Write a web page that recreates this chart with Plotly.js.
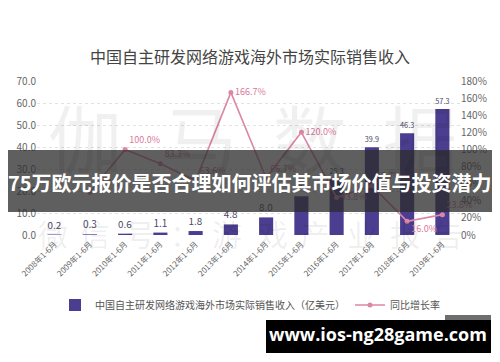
<!DOCTYPE html>
<html>
<head>
<meta charset="utf-8">
<script src="https://cdn.plot.ly/plotly-3.0.1.min.js"></script>
<style>html,body{margin:0;padding:0;background:#fff;}#chart{width:500px;height:362px;}</style>
</head>
<body>
<div id="chart"></div>
<script>
// ---- data ----
var categories = ["2008年1-6月","2009年1-6月","2010年1-6月","2011年1-6月","2012年1-6月","2013年1-6月","2014年1-6月","2015年1-6月","2016年1-6月","2017年1-6月","2018年1-6月","2019年1-6月"];
var revenue = [0.2, 0.3, 0.6, 1.1, 1.8, 4.8, 8.0, 17.6, 25.3, 39.9, 46.3, 57.3];
var growthPct = [null, 50.0, 100.0, 83.3, 63.6, 166.7, 66.7, 120.0, 43.8, 57.7, 16.0, 23.8];
var growthLabelPos = ["top right","top right","top right","top right","top right","middle right","top right","middle right","middle right","top right","bottom right","top right"];
var leftTicks = [0,10,20,30,40,50,60,70];
var rightTicks = [0,0.2,0.4,0.6,0.8,1.0,1.2,1.4,1.6,1.8];

var W = 500, H = 362;
var ML = 37, MR = 40, MT = 81, MB = 127;
var PW = W - ML - MR, PH = H - MT - MB;
function px(x){ return (x - ML) / PW; }
function py(y){ return (H - MB - y) / PH; }

var CJK = '"Noto Sans CJK SC", "Noto Sans", sans-serif';

var barTrace = {
  type: 'bar', x: categories, y: revenue, name: '中国自主研发网络游戏海外市场实际销售收入（亿美元）',
  marker: {color: '#4b3d8f'}, width: 0.4,
  text: revenue.map(function(v){return v.toFixed(1);}), textposition: 'outside',
  textfont: {color: '#4d4866', size: 10, family: CJK}, cliponaxis: false,
  hoverinfo: 'skip'
};
var lineTrace = {
  type: 'scatter', mode: 'lines+markers+text', x: categories,
  y: growthPct.map(function(v){return v === null ? null : v/100;}), yaxis: 'y2',
  name: '同比增长率',
  line: {color: '#dd86a6', width: 1.6}, marker: {color: '#dd86a6', size: 5},
  text: growthPct.map(function(v){return v === null ? '' : v.toFixed(1) + '%';}),
  textposition: growthLabelPos,
  textfont: {color: '#d9799c', size: 9, family: CJK}, cliponaxis: false,
  hoverinfo: 'skip'
};

var annotations = [];
// faint watermarks
var wm1 = ['伽','马','数','据'], wm1x = [85, 200, 310, 420];
wm1.forEach(function(c,i){
  annotations.push({xref:'paper', yref:'paper', x: px(wm1x[i]), y: py(135), text: c, showarrow:false,
    font:{size:74, color:'rgba(0,0,0,0.06)', family: CJK}, xanchor:'center', yanchor:'middle'});
});
var wm2 = ['微','信','号','：','游','戏','产','业','报','告'], wm2x = [53,95,140,185,227,273,315,362,405,448];
wm2.forEach(function(c,i){
  annotations.push({xref:'paper', yref:'paper', x: px(wm2x[i]), y: py(233), text: c, showarrow:false,
    font:{size:30, color:'rgba(0,0,0,0.07)', family: CJK}, xanchor:'center', yanchor:'middle'});
});
// banner text
annotations.push({xref:'paper', yref:'paper', x: px(250), y: py(182), text: '75万欧元报价是否合理如何评估其市场价值与投资潜力',
  showarrow:false, font:{size:20, color:'#ffffff', family: CJK, weight: 'bold'}, xanchor:'center', yanchor:'middle'});
// url text
annotations.push({xref:'paper', yref:'paper', x: px(378), y: py(334), text: 'www.ios-ng28game.com',
  showarrow:false, font:{size:18, color:'#ffffff', family: '"Open Sans", sans-serif', weight: 'bold'}, xanchor:'center', yanchor:'middle'});

var shapes = [
  {type:'rect', xref:'paper', yref:'paper', x0: px(8), x1: px(492), y0: py(150), y1: py(212),
   fillcolor:'rgba(45,45,45,0.76)', line:{width:0}, layer:'above'},
  {type:'rect', xref:'paper', yref:'paper', x0: px(266), x1: px(491), y0: py(315), y1: py(353),
   fillcolor:'#000000', line:{width:0}, layer:'above'},
  {type:'rect', xref:'paper', yref:'paper', x0: px(266), x1: px(491), y0: py(315), y1: py(320),
   fillcolor:'#6e6e6e', line:{width:0}, layer:'above'}
];

var layout = {
  width: W, height: H,
  margin: {l: ML, r: MR, t: MT, b: MB, autoexpand: false},
  paper_bgcolor: '#ffffff', plot_bgcolor: '#ffffff',
  font: {family: CJK, color: '#555'},
  title: {text: '中国自主研发网络游戏海外市场实际销售收入', x: 0.5, xref: 'container', xanchor: 'center',
          y: 1 - 57/362, yref: 'container', yanchor: 'middle', font: {size: 16, color: '#444', family: CJK}},
  xaxis: {type: 'category', range: [-0.5, categories.length - 0.5], tickangle: -45, tickfont: {size: 8, color: '#666', family: CJK}, automargin: false,
          showgrid: false, zeroline: false, showline: false, ticks: '', ticklabelstandoff: 2},
  yaxis: {range: [0, 70], tickvals: leftTicks, tickformat: '.1f', tickfont: {size: 10, color: '#666'}, automargin: false,
          showgrid: true, gridcolor: '#e2e2e2', griddash: 'dot', zeroline: false, showline: false},
  yaxis2: {range: [0, 1.8], tickvals: rightTicks, tickformat: '.0%', overlaying: 'y', side: 'right', automargin: false,
           tickfont: {size: 10, color: '#666'}, showgrid: false, zeroline: false, showline: false},
  showlegend: true,
  legend: {orientation: 'h', x: 0.5, xref: 'container', xanchor: 'center', y: 1 - 305/362, yref: 'container', yanchor: 'middle',
           font: {size: 10, color: '#555', family: CJK}, itemwidth: 30},
  annotations: annotations,
  shapes: shapes
};

Plotly.newPlot('chart', [barTrace, lineTrace], layout, {displayModeBar: false, staticPlot: true});
</script>
</body>
</html>
